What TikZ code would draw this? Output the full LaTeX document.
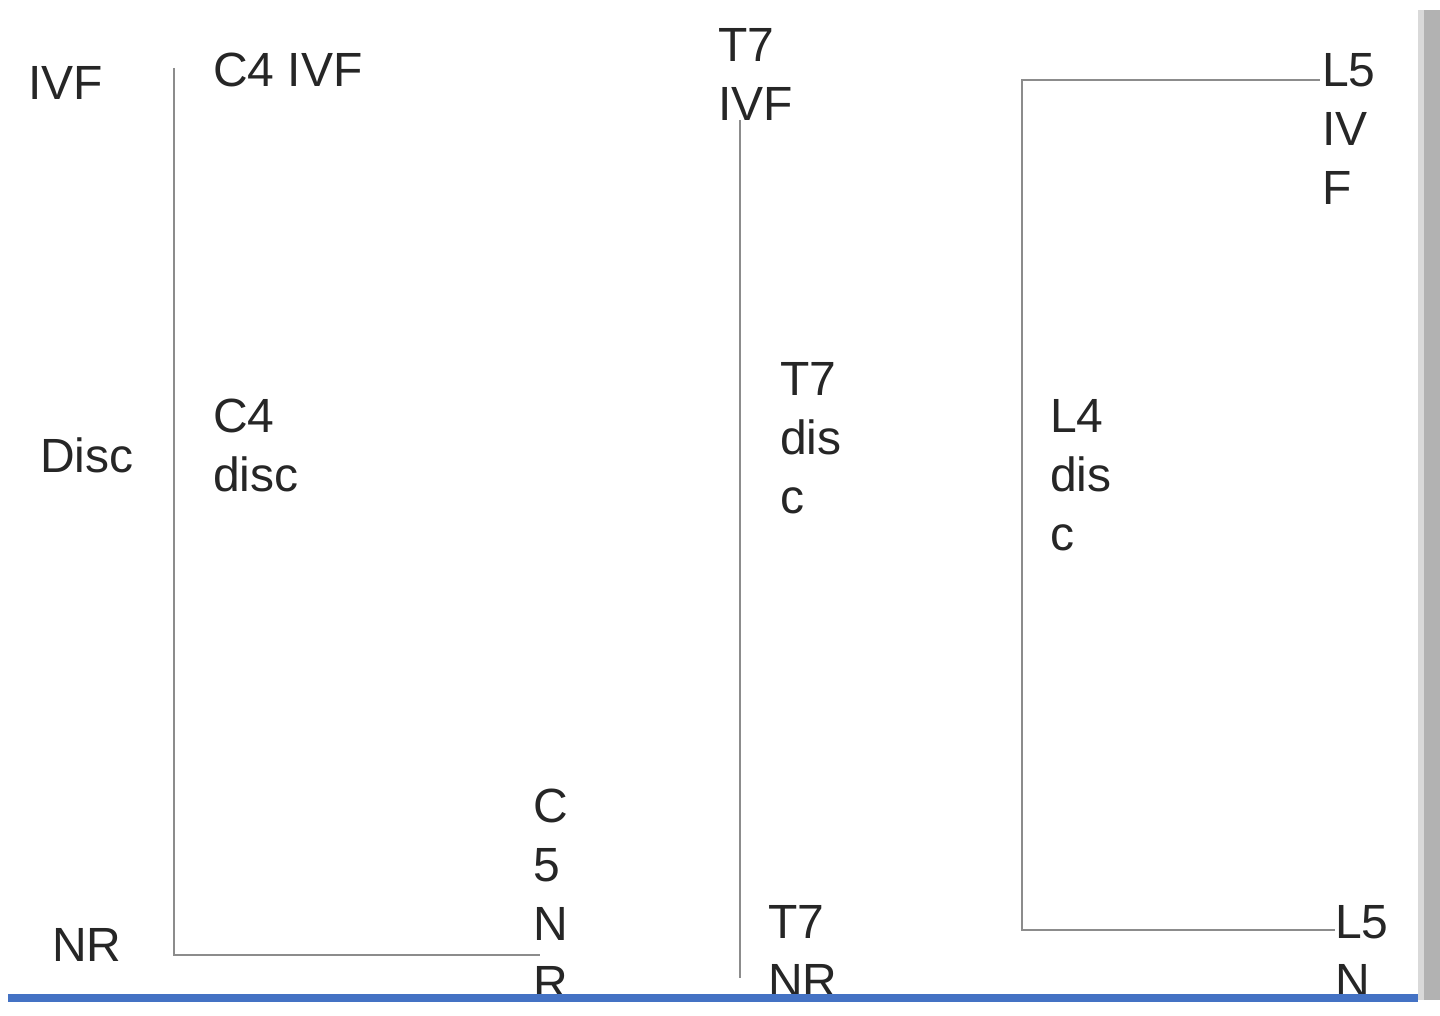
\documentclass[tikz,border=0pt]{standalone}
\usepackage{fontspec}
\setmainfont{Liberation Sans}
\begin{document}
\begin{tikzpicture}[x=1pt,y=-1pt,
  lbl/.style={anchor=west,inner sep=0pt,align=left,font=\fontsize{48}{59}\selectfont,text=black!85},
  ln/.style={draw=black!45,line width=2pt}]
\useasboundingbox (0,0) rectangle (1440,1016);
\fill[black!30] (1418,10) rectangle (1440,1000);
\fill[white!85!black] (1418,10) rectangle (1424,1000);
% labels
\node[lbl] (ivf) at (28,83) {IVF};
\node[lbl] (disc) at (40,455) {Disc};
\node[lbl] (nr) at (52,945) {NR};
\node[lbl] (c4ivf) at (213,70) {C4 IVF};
\node[lbl] (c4disc) at (213,445) {C4\\disc};
\node[lbl] (c5nr) at (533,894) {C\\5\\N\\R};
\node[lbl] (t7ivf) at (718,74) {T7\\IVF};
\node[lbl] (t7disc) at (780,438) {T7\\dis\\c};
\node[lbl] (t7nr) at (768,951) {T7\\NR};
\node[lbl] (l5ivf) at (1322,129) {L5\\IV\\F};
\node[lbl] (l4disc) at (1050,475) {L4\\dis\\c};
\node[lbl] (l5n) at (1335,951) {L5\\N};
% lines
\coordinate (a1) at (174,68); \coordinate (a2) at (174,955); \coordinate (a3) at (540,955);
\draw[ln] (a1) -- (a2) -- (a3);
\coordinate (b1) at (740,120); \coordinate (b2) at (740,978);
\draw[ln] (b1) -- (b2);
\coordinate (c1) at (1320,80); \coordinate (c2) at (1022,80); \coordinate (c3) at (1022,930); \coordinate (c4) at (1335,930);
\draw[ln] (c1) -- (c2) -- (c3) -- (c4);
\coordinate (d1) at (8,998); \coordinate (d2) at (1418,998);
\draw[line width=8pt,draw={rgb,255:red,68;green,114;blue,196}] (d1) -- (d2);
\end{tikzpicture}
\end{document}
